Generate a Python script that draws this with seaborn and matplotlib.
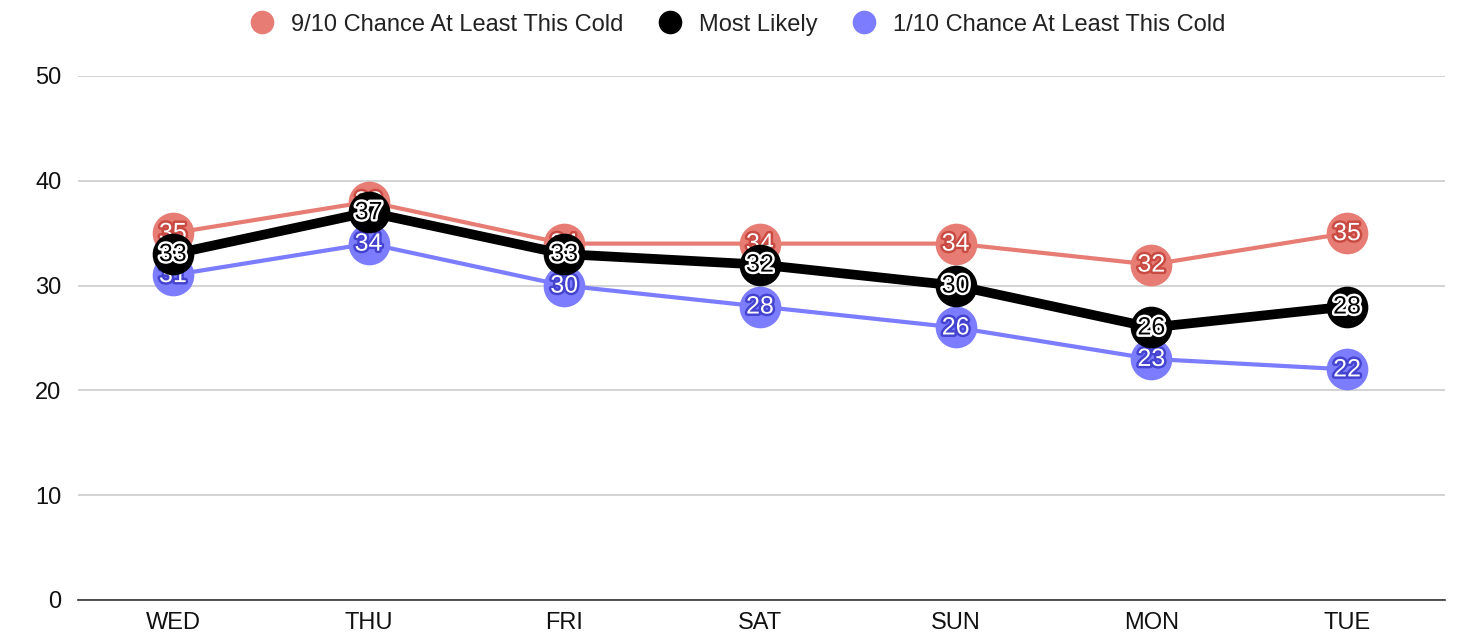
import matplotlib
matplotlib.use("Agg")
import matplotlib.pyplot as plt
import matplotlib.patheffects as pe
from matplotlib.lines import Line2D
import seaborn as sns
import pandas as pd

days = ["WED", "THU", "FRI", "SAT", "SUN", "MON", "TUE"]
chance_9_10 = [35, 38, 34, 34, 34, 32, 35]
most_likely = [33, 37, 33, 32, 30, 26, 28]
chance_1_10 = [31, 34, 30, 28, 26, 23, 22]
series_names = ["9/10 Chance At Least This Cold", "Most Likely", "1/10 Chance At Least This Cold"]
y_ticks = [0, 10, 20, 30, 40, 50]

sns.set_theme(style="white")
plt.rcParams['font.family'] = ['Liberation Sans', 'DejaVu Sans']

fig = plt.figure(figsize=(14.58, 6.38), dpi=100)
ax = fig.add_axes([0.0535, 0.0596, 0.9375, 0.8214])

red = "#E67C73"
blue = "#7C7CFF"
black = "#000000"

df = pd.DataFrame({"day": days * 3,
                   "x": list(range(len(days))) * 3,
                   "value": chance_9_10 + most_likely + chance_1_10,
                   "series": [series_names[0]] * 7 + [series_names[1]] * 7 + [series_names[2]] * 7})

styles = {
    series_names[0]: dict(color=red, lw=3, z=2, txt="white", stroke="#C94A42"),
    series_names[2]: dict(color=blue, lw=3, z=3, txt="white", stroke="#4343D0"),
    series_names[1]: dict(color=black, lw=7, z=4, txt="black", stroke="white"),
}

for name in [series_names[0], series_names[2], series_names[1]]:
    st = styles[name]
    sub = df[df["series"] == name]
    sns.lineplot(data=sub, x="x", y="value", ax=ax, color=st["color"], lw=st["lw"],
                 marker="o", markersize=30, markeredgewidth=0, zorder=st["z"],
                 legend=False, sort=False)
    for xi, v in zip(sub["x"], sub["value"]):
        ax.text(xi, v, str(v), ha="center", va="center", fontsize=18, color=st["txt"],
                zorder=st["z"] + 0.5,
                path_effects=[pe.withStroke(linewidth=3.5, foreground=st["stroke"])])

ax.set_xlim(-0.485, 6.5)
ax.set_ylim(0, 50)
ax.set_xticks(range(len(days)))
ax.set_xticklabels(days)
ax.set_yticks(y_ticks)
ax.set_xlabel("")
ax.set_ylabel("")
ax.grid(axis="y", color="#CCCCCC", lw=1.2)
ax.set_axisbelow(True)
for s in ["top", "right", "left"]:
    ax.spines[s].set_visible(False)
ax.spines["bottom"].set_color("#333333")
ax.spines["bottom"].set_linewidth(1.2)
ax.tick_params(axis="both", length=0, labelsize=17, colors="#111111", pad=9)
ax.tick_params(axis="y", pad=12)

handles = [Line2D([], [], ls="none", marker="o", markersize=17, color=c, markeredgewidth=0)
           for c in [red, black, blue]]
fig.legend(handles, series_names, loc="upper center", bbox_to_anchor=(0.502, 1.012), ncol=3,
           frameon=False, fontsize=17, handletextpad=0.2, columnspacing=1.0,
           labelcolor="#222222")

fig.savefig("out.png", dpi=100, facecolor="white")
